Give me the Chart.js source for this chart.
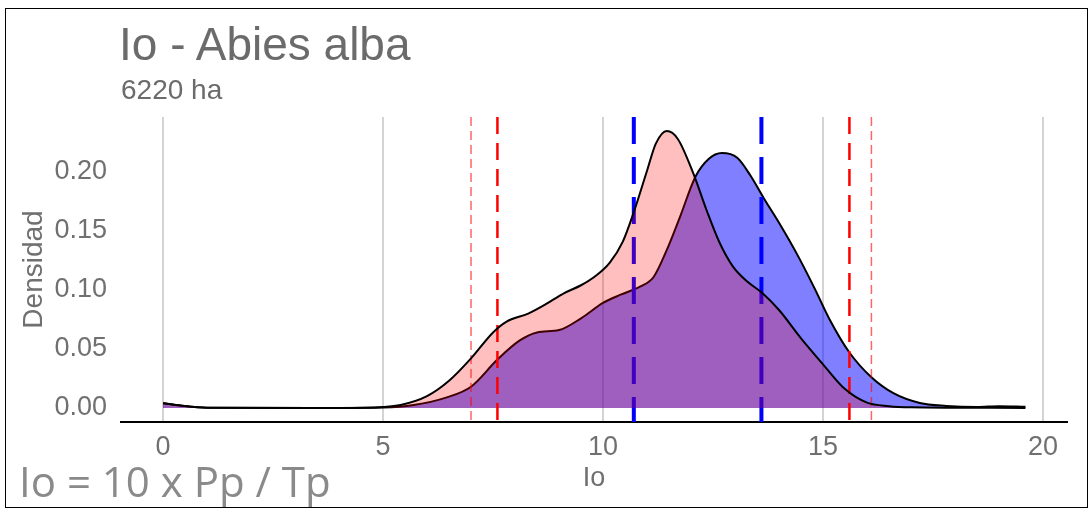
<!DOCTYPE html>
<html>
<head>
<meta charset="utf-8">
<script src="https://cdn.jsdelivr.net/npm/chart.js@4/dist/chart.umd.min.js"></script>
<style>
  html, body { margin: 0; padding: 0; background: #fff; }
  #wrap { position: relative; width: 1089px; height: 512px; overflow: hidden; }
  #chart { position: absolute; left: 0; top: 0; }
  .txt { position: absolute; white-space: nowrap; line-height: 1; }
  #title { left: 119px; top: 17px; font: 46px "Liberation Sans", Arial, sans-serif; color: #6b6b6b; }
  #subtitle { left: 121px; top: 74px; font: 28px "Liberation Sans", Arial, sans-serif; color: #6b6b6b; }
  #formula { left: 19px; top: 452px; font: 42px "Open Sans", sans-serif; color: #8a8a8a; }
  #frame { position: absolute; left: 5px; top: 8px; width: 1081px; height: 498px; border: 1.5px solid #000; pointer-events: none; }
</style>
</head>
<body>
<div id="wrap">
  <canvas id="chart" width="1089" height="512"></canvas>
  <div class="txt" id="title">Io - Abies alba</div>
  <div class="txt" id="subtitle">6220 ha</div>
  <div class="txt" id="formula">Io = 10 x Pp / Tp</div>
  <div id="frame"></div>
</div>
<script>
// density curves
const redX = [0, 0.4, 1.0, 4.0, 5.0, 5.4, 6.0, 6.5, 7.0, 7.5, 7.8, 8.3, 8.7, 9.1, 9.5, 9.8, 10.15, 10.45, 10.7, 11.0, 11.2, 11.45, 11.7, 12.05, 12.35, 12.65, 12.95, 13.25, 13.6, 14.0, 14.5, 15.0, 15.5, 16.0, 16.5, 17.0, 18.0, 19.6];
const redY = [0.004, 0.002, 0.0002, 0, 0.0008, 0.0025, 0.010, 0.023, 0.042, 0.064, 0.073, 0.080, 0.088, 0.097, 0.104, 0.111, 0.123, 0.141, 0.166, 0.201, 0.224, 0.2347, 0.228, 0.199, 0.168, 0.140, 0.120, 0.108, 0.098, 0.083, 0.059, 0.037, 0.016, 0.0045, 0.0015, 0.0005, 0.0002, 0];

const blueX = [0, 0.4, 1.0, 4.0, 5.0, 5.7, 6.45, 7.0, 7.6, 8.1, 8.5, 9.0, 9.5, 10.0, 10.4, 10.85, 11.15, 11.45, 11.75, 12.1, 12.4, 12.7, 13.05, 13.35, 13.65, 14.0, 14.4, 14.8, 15.15, 15.6, 16.1, 16.6, 17.2, 17.8, 18.5, 19.0, 19.6];
const blueY = [0.004, 0.002, 0.0002, 0, 0.0003, 0.0025, 0.009, 0.018, 0.041, 0.057, 0.064, 0.066, 0.076, 0.089, 0.096, 0.103, 0.111, 0.134, 0.162, 0.196, 0.211, 0.216, 0.212, 0.197, 0.178, 0.157, 0.131, 0.102, 0.075, 0.047, 0.026, 0.0125, 0.0042, 0.0017, 0.0008, 0.0015, 0.001];

// reference lines
const blueLines = [10.7, 13.6];
const redLines = [7.6, 15.6];
const redThinLines = [7.0, 16.1];

const xTicks = [0, 5, 10, 15, 20];
const yTicks = [0, 0.05, 0.10, 0.15, 0.20];
const xRange = [-0.955, 20.545];
const yRange = [-0.0119, 0.2466];

const font = '"Liberation Sans", Arial, sans-serif';
const grey = '#707070';

function toPoints(xs, ys) {
    return xs.map((x, i) => ({ x: x, y: ys[i] }));
}

function vline(x, color, width, dash, order) {
    return {
        data: [{ x: x, y: yRange[1] }, { x: x, y: yRange[0] }],
        borderColor: color,
        borderWidth: width,
        borderDash: dash,
        pointRadius: 0,
        fill: false,
        order: order,
    };
}

const datasets = [
    {
        data: toPoints(redX, redY),
        backgroundColor: 'rgba(255, 0, 0, 0.25)',
        borderColor: '#000',
        borderWidth: 2,
        fill: 'origin',
        pointRadius: 0,
        cubicInterpolationMode: 'monotone',
        order: 0,
    },
    ...blueLines.map(x => vline(x, '#0000ff', 4, [27, 13], 1)),
    ...redLines.map(x => vline(x, '#ff0000', 2.5, [17, 9], 1)),
    ...redThinLines.map(x => vline(x, 'rgba(255, 0, 0, 0.6)', 1.5, [9, 5], 1)),
    {
        data: toPoints(blueX, blueY),
        backgroundColor: 'rgba(0, 0, 255, 0.5)',
        borderColor: '#000',
        borderWidth: 2,
        fill: 'origin',
        pointRadius: 0,
        cubicInterpolationMode: 'monotone',
        order: 2,
    },
];

new Chart(document.getElementById('chart'), {
    type: 'line',
    data: { datasets: datasets },
    options: {
        responsive: false,
        animation: false,
        devicePixelRatio: 1,
        layout: { padding: { top: 117, right: 22, bottom: 0, left: 0 } },
        plugins: {
            legend: { display: false },
            tooltip: { enabled: false },
        },
        scales: {
            x: {
                type: 'linear',
                min: xRange[0],
                max: xRange[1],
                afterBuildTicks: s => { s.ticks = xTicks.map(v => ({ value: v })); },
                afterFit: s => { s.height = 90; },
                grid: { color: '#d4d4d4', lineWidth: 2, drawTicks: false },
                border: { display: true, color: '#000', width: 2 },
                ticks: {
                    color: grey,
                    padding: 9,
                    font: { family: font, size: 27 },
                    maxRotation: 0,
                    callback: v => String(v),
                },
                title: {
                    display: true,
                    text: 'Io',
                    color: grey,
                    font: { family: font, size: 27 },
                    padding: { top: 0, bottom: 17 },
                },
            },
            y: {
                type: 'linear',
                min: yRange[0],
                max: yRange[1],
                afterBuildTicks: s => { s.ticks = yTicks.map(v => ({ value: v })); },
                afterFit: s => { s.width = 121; },
                grid: { display: false, drawTicks: false },
                border: { display: false },
                ticks: {
                    color: grey,
                    padding: 14,
                    font: { family: font, size: 27 },
                    callback: v => v.toFixed(2),
                },
                title: {
                    display: true,
                    text: 'Densidad',
                    color: grey,
                    font: { family: font, size: 28 },
                    padding: { top: 17, bottom: 0 },
                },
            },
        },
    },
});
</script>
</body>
</html>
